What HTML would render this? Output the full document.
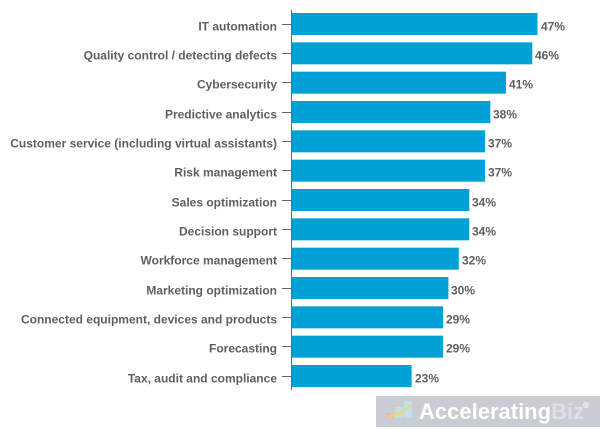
<!DOCTYPE html>
<html><head><meta charset="utf-8"><style>
html,body{margin:0;padding:0;background:#fff;}
svg{display:block;}
text{font-family:"Liberation Sans",Arial,sans-serif;font-weight:bold;font-size:12px;fill:#5f5f5f;}
</style></head><body>
<svg width="600" height="430" viewBox="0 0 600 430" xmlns="http://www.w3.org/2000/svg">
<g id="bars" fill="#00a1d6">
<rect x="291" y="13" width="246.5" height="22"/>
<rect x="291" y="42.33" width="241.3" height="22"/>
<rect x="291" y="71.67" width="215" height="22"/>
<rect x="291" y="101" width="199.3" height="22"/>
<rect x="291" y="130.33" width="194" height="22"/>
<rect x="291" y="159.67" width="194" height="22"/>
<rect x="291" y="189" width="178.3" height="22"/>
<rect x="291" y="218.33" width="178.3" height="22"/>
<rect x="291" y="247.67" width="167.8" height="22"/>
<rect x="291" y="277" width="157.4" height="22"/>
<rect x="291" y="306.33" width="152.1" height="22"/>
<rect x="291" y="335.67" width="152.1" height="22"/>
<rect x="291" y="365" width="120.6" height="22"/>
</g>
<line x1="291.5" y1="10" x2="291.5" y2="390" stroke="#666" stroke-width="1"/>
<g stroke="#666" stroke-width="1">
<line x1="282" x2="291" y1="24.5" y2="24.5"/>
<line x1="282" x2="291" y1="53.5" y2="53.5"/>
<line x1="282" x2="291" y1="82.5" y2="82.5"/>
<line x1="282" x2="291" y1="112.5" y2="112.5"/>
<line x1="282" x2="291" y1="141.5" y2="141.5"/>
<line x1="282" x2="291" y1="170.5" y2="170.5"/>
<line x1="282" x2="291" y1="200.5" y2="200.5"/>
<line x1="282" x2="291" y1="229.5" y2="229.5"/>
<line x1="282" x2="291" y1="258.5" y2="258.5"/>
<line x1="282" x2="291" y1="288.5" y2="288.5"/>
<line x1="282" x2="291" y1="317.5" y2="317.5"/>
<line x1="282" x2="291" y1="346.5" y2="346.5"/>
<line x1="282" x2="291" y1="376.5" y2="376.5"/>
</g>
<g text-anchor="end">
<text x="277" y="30.7">IT automation</text>
<text x="277" y="59.7">Quality control / detecting defects</text>
<text x="277" y="88.7">Cybersecurity</text>
<text x="277" y="118.7">Predictive analytics</text>
<text x="277" y="147.7">Customer service (including virtual assistants)</text>
<text x="277" y="176.7">Risk management</text>
<text x="277" y="206.7">Sales optimization</text>
<text x="277" y="235.7">Decision support</text>
<text x="277" y="264.7">Workforce management</text>
<text x="277" y="294.7">Marketing optimization</text>
<text x="277" y="323.7">Connected equipment, devices and products</text>
<text x="277" y="352.7">Forecasting</text>
<text x="277" y="382.7">Tax, audit and compliance</text>
</g>
<g>
<text x="541" y="30.5">47%</text>
<text x="535" y="59.5">46%</text>
<text x="509" y="88.5">41%</text>
<text x="493" y="118.5">38%</text>
<text x="488" y="147.5">37%</text>
<text x="488" y="176.5">37%</text>
<text x="472" y="206.5">34%</text>
<text x="472" y="235.5">34%</text>
<text x="462" y="264.5">32%</text>
<text x="451" y="294.5">30%</text>
<text x="446" y="323.5">29%</text>
<text x="446" y="352.5">29%</text>
<text x="415" y="382.5">23%</text>
</g>
<rect x="376" y="396" width="224" height="31" fill="#c9cdd3"/>
<rect x="386" y="413" width="8" height="5" fill="#e8b9bb"/>
<rect x="395" y="407" width="8" height="11" fill="#c6e2c9"/>
<rect x="404" y="401" width="8" height="17" fill="#bfe0ef"/>
<path d="M388 417 L404 412 L411 404" stroke="#f2d27a" stroke-width="2" fill="none"/>
<text x="419" y="419" style="font-size:22px;fill:#ffffff;font-weight:bold">Accelerating<tspan style="fill:#dde1e6">Biz</tspan></text>
<text x="583" y="408" style="font-size:8px;fill:#ffffff">®</text>
</svg>
</body></html>
